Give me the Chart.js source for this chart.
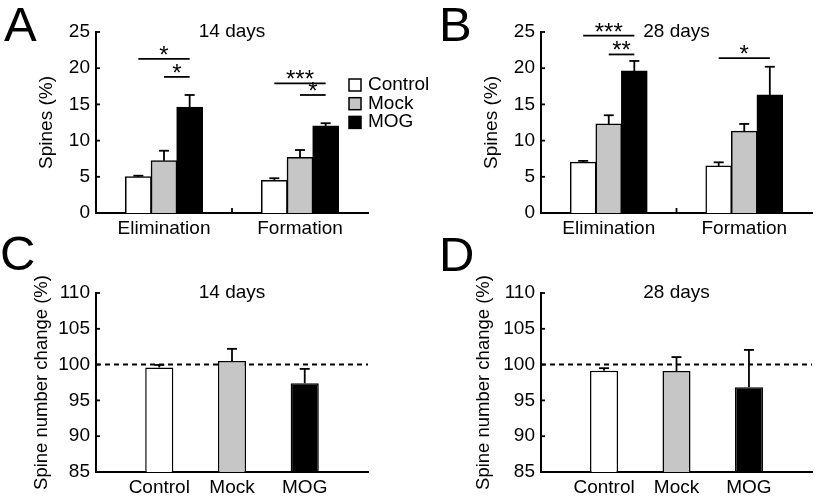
<!DOCTYPE html>
<html>
<head>
<meta charset="utf-8">
<script src="https://cdn.jsdelivr.net/npm/chart.js@4.4.0/dist/chart.umd.min.js"></script>
<style>
    body { margin: 0; background: #fff; }
    #wrap { position: relative; width: 816px; height: 500px; overflow: hidden; font-family: 'Liberation Sans', Arial, sans-serif; }
    canvas { position: absolute; }
    .letter { position: absolute; font-size: 49px; line-height: 49px; color: #000; }
</style>
</head>
<body>
<div id="wrap">
    <canvas id="chartA" width="450" height="250" style="left:0;top:0"></canvas>
    <canvas id="chartB" width="372" height="250" style="left:445px;top:0"></canvas>
    <canvas id="chartC" width="408" height="250" style="left:0;top:250px"></canvas>
    <canvas id="chartD" width="371" height="250" style="left:445px;top:250px"></canvas>
    <div class="letter" style="left:4px;top:0">A</div>
    <div class="letter" style="left:439px;top:0">B</div>
    <div class="letter" style="left:0;top:229px">C</div>
    <div class="letter" style="left:439px;top:230px">D</div>
</div>
<script>
// categories and ticks
const groups = ['Control', 'Mock', 'MOG'];
const measures = ['Elimination', 'Formation'];
const spineTicks = [0, 5, 10, 15, 20, 25];
const changeTicks = [85, 90, 95, 100, 105, 110];

// 14 days, values per measure [Elimination, Formation]
const control14 = [5.0, 4.5];
const control14Sem = [0.15, 0.3];
const mock14 = [7.2, 7.65];
const mock14Sem = [1.4, 1.05];
const mog14 = [14.6, 12.0];
const mog14Sem = [1.7, 0.4];

// 28 days
const control28 = [7.0, 6.5];
const control28Sem = [0.2, 0.5];
const mock28 = [12.3, 11.3];
const mock28Sem = [1.2, 1.0];
const mog28 = [19.6, 16.3];
const mog28Sem = [1.4, 3.9];

// spine number change, per group [Control, Mock, MOG]
const change14 = [99.6, 100.5, 97.4];
const change14Sem = [0.35, 1.7, 2.0];
const change28 = [99.15, 99.1, 96.85];
const change28Sem = [0.35, 1.95, 5.2];
const baseline = 100;

// significance: [measure, group from, group to, height, stars]
const sig14 = [[0, 0, 2, 21.3, '*'], [0, 1, 2, 18.8, '*'], [1, 0, 2, 17.9, '***'], [1, 1, 2, 16.3, '*']];
const sig28 = [[0, 0, 2, 24.5, '***'], [0, 1, 2, 21.9, '**'], [1, 0, 2, 21.4, '*']];

const FONT = "'Liberation Sans', Arial, sans-serif";
const fills = ['#ffffff', '#c6c6c6', '#000000'];

Chart.defaults.font.family = FONT;
Chart.defaults.font.size = 19;
Chart.defaults.color = '#000';

function line(ctx, x1, y1, x2, y2) {
    ctx.beginPath();
    ctx.moveTo(x1, y1);
    ctx.lineTo(x2, y2);
    ctx.stroke();
}

const panelExtras = {
    id: 'panelExtras',
    beforeDatasetsDraw(chart, args, opts) {
        if (opts.refLine === undefined) return;
        const {ctx, chartArea} = chart;
        const y = chart.scales.y.getPixelForValue(opts.refLine);
        ctx.save();
        ctx.setLineDash([5, 4]);
        ctx.lineWidth = 2;
        ctx.strokeStyle = '#000';
        line(ctx, chartArea.left, y, chartArea.right, y);
        ctx.restore();
    },
    afterDraw(chart, args, opts) {
        const {ctx, chartArea} = chart;
        const yScale = chart.scales.y;
        ctx.save();
        ctx.strokeStyle = '#000';
        ctx.fillStyle = '#000';
        ctx.lineWidth = 1.8;

        // inward y ticks
        yScale.ticks.forEach(t => {
            const py = yScale.getPixelForValue(t.value);
            line(ctx, chartArea.left, py, chartArea.left + 4, py);
        });

        // tick between the two measures
        if (opts.midTick) {
            const xs = chart.scales.x;
            const px = (xs.getPixelForValue(0) + xs.getPixelForValue(1)) / 2;
            line(ctx, px, chartArea.bottom, px, chartArea.bottom - 5);
        }

        // error bars (upper half only)
        (opts.errors || []).forEach((errs, di) => {
            const meta = chart.getDatasetMeta(di);
            meta.data.forEach((bar, i) => {
                const v = meta.controller.getParsed(i).y;
                const top = yScale.getPixelForValue(v + errs[i]);
                line(ctx, bar.x, bar.y, bar.x, top);
                line(ctx, bar.x - 5, top, bar.x + 5, top);
            });
        });

        // significance brackets
        ctx.textAlign = 'center';
        ctx.textBaseline = 'alphabetic';
        ctx.font = '24px ' + FONT;
        (opts.sig || []).forEach(([m, g1, g2, h, label]) => {
            const x1 = chart.getDatasetMeta(g1).data[m].x;
            const x2 = chart.getDatasetMeta(g2).data[m].x;
            const py = yScale.getPixelForValue(h);
            line(ctx, x1, py, x2, py);
            ctx.fillText(label, (x1 + x2) / 2, py + 4);
        });

        // panel title
        ctx.font = '19px ' + FONT;
        if (opts.title) {
            ctx.fillText(opts.title, (chartArea.left + chartArea.right) / 2, chartArea.top + 5);
        }

        // legend
        if (opts.legend) {
            const lg = opts.legend;
            ctx.textAlign = 'left';
            ctx.lineWidth = 1.5;
            chart.data.datasets.forEach((ds, i) => {
                const by = lg.y + i * lg.step;
                ctx.fillStyle = ds.backgroundColor;
                ctx.fillRect(lg.x, by - 11, 12, 12);
                ctx.strokeRect(lg.x, by - 11, 12, 12);
                ctx.fillStyle = '#000';
                ctx.fillText(ds.label, lg.x + 19, by);
            });
        }
        ctx.restore();
    }
};

function yAxis(ticks, title, titlePad, titleSize) {
    return {
        min: ticks[0],
        max: ticks[ticks.length - 1],
        afterBuildTicks: axis => { axis.ticks = ticks.map(v => ({value: v})); },
        afterFit: scale => { scale.width = 96; },
        ticks: { padding: 6 },
        grid: { display: false, drawTicks: false },
        border: { color: '#000', width: 2 },
        title: { display: true, text: title, font: { size: titleSize }, padding: { top: titlePad, bottom: 0 } },
        z: 1
    };
}

function spinesChart(id, control, controlSem, mock, mockSem, mog, mogSem, sig, title, rightPad, titlePad, showLegend) {
    const series = [control, mock, mog];
    return new Chart(document.getElementById(id).getContext('2d'), {
        type: 'bar',
        data: {
            labels: measures,
            datasets: groups.map((g, i) => ({
                label: g,
                data: series[i],
                backgroundColor: fills[i],
                borderColor: '#000',
                borderWidth: 1.5,
                borderSkipped: 'start',
                inflateAmount: 0.5,
                categoryPercentage: 0.566,
                barPercentage: 1.0
            }))
        },
        options: {
            responsive: false,
            animation: false,
            devicePixelRatio: 1,
            layout: { padding: { left: 0, top: 32, right: rightPad, bottom: 0 } },
            scales: {
                x: {
                    afterFit: scale => { scale.height = 37; },
                    ticks: { padding: 4, autoSkip: false, maxRotation: 0 },
                    grid: { display: false, drawTicks: false },
                    border: { color: '#000', width: 2 },
                    z: 1
                },
                y: yAxis(spineTicks, 'Spines (%)', titlePad, 19)
            },
            plugins: {
                legend: { display: false },
                tooltip: { enabled: false },
                panelExtras: {
                    title: title,
                    midTick: true,
                    errors: [controlSem, mockSem, mogSem],
                    sig: sig,
                    legend: showLegend ? { x: 349, y: 90, step: 18.7 } : null
                }
            }
        },
        plugins: [panelExtras]
    });
}

function changeChart(id, values, sem, title, rightPad, titlePad) {
    return new Chart(document.getElementById(id).getContext('2d'), {
        type: 'bar',
        data: {
            datasets: [{
                label: 'Spine number change',
                data: values.map((v, i) => ({ x: i + 1, y: v })),
                backgroundColor: fills,
                borderColor: '#000',
                borderWidth: 1.5,
                borderSkipped: 'start',
                categoryPercentage: 1.0,
                barPercentage: 0.387
            }]
        },
        options: {
            responsive: false,
            animation: false,
            devicePixelRatio: 1,
            layout: { padding: { left: 0, top: 43, right: rightPad, bottom: 0 } },
            scales: {
                x: {
                    type: 'linear',
                    offset: false,
                    min: 0.13,
                    max: groups.length + 0.87,
                    afterBuildTicks: axis => { axis.ticks = groups.map((g, i) => ({value: i + 1})); },
                    afterFit: scale => { scale.height = 28; },
                    ticks: { padding: 4, autoSkip: false, maxRotation: 0, callback: v => groups[v - 1] },
                    grid: { display: false, drawTicks: false },
                    border: { color: '#000', width: 2 },
                    z: 1
                },
                y: yAxis(changeTicks, 'Spine number change (%)', titlePad, 18.5)
            },
            plugins: {
                legend: { display: false },
                tooltip: { enabled: false },
                panelExtras: {
                    title: title,
                    refLine: baseline,
                    errors: [sem]
                }
            }
        },
        plugins: [panelExtras]
    });
}

spinesChart('chartA', control14, control14Sem, mock14, mock14Sem, mog14, mog14Sem, sig14, '14 days', 82, 35, true);
spinesChart('chartB', control28, control28Sem, mock28, mock28Sem, mog28, mog28Sem, sig28, '28 days', 5, 35, false);
changeChart('chartC', change14, change14Sem, '14 days', 40, 31);
changeChart('chartD', change28, change28Sem, '28 days', 4, 28);
</script>
</body>
</html>
